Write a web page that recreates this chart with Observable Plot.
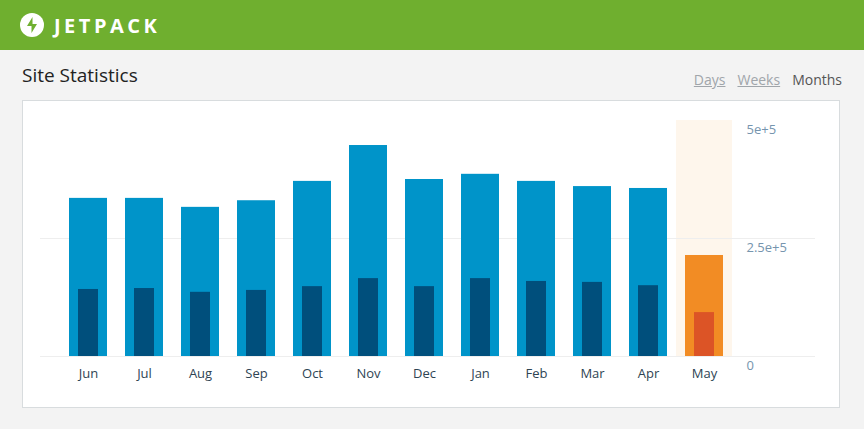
<!DOCTYPE html>
<html><head><meta charset="utf-8">
<script src="https://cdn.jsdelivr.net/npm/d3@7"></script>
<script src="https://cdn.jsdelivr.net/npm/@observablehq/plot@0.6"></script>
<style>
body{margin:0;width:864px;height:429px;background:#f3f3f3;font-family:"Open Sans",sans-serif;overflow:hidden;position:relative}
.head{height:50px;background:#6faf2f;display:flex;align-items:center}
.logo{width:24px;height:24px;border-radius:50%;background:#fff;margin-left:20px;position:relative}
.head span{color:#fff;font-weight:700;font-size:20px;letter-spacing:3.5px;margin-left:10px}
.title{position:absolute;left:22px;top:62px;font-size:19px;color:#222}
.tabs{position:absolute;top:70px;right:22px;font-size:14px;color:#a0a5aa}
.tabs a{margin-left:12px;text-decoration:underline}
.tabs b{margin-left:12px;font-weight:400;color:#555}
.panel{position:absolute;left:22px;top:100px;width:816px;height:306px;background:#fff;border:1px solid #d8dcde}
</style></head><body>
<div class="head"><div class="logo"><svg width="24" height="24"><path d="M12.5 4 L7 13 H11.5 V20 L17 11 H12.5 Z" fill="#6faf2f"/></svg></div><span>JETPACK</span></div>
<div class="title">Site Statistics</div>
<div class="tabs"><a>Days</a><a>Weeks</a><b>Months</b></div>
<div class="panel" id="chart"></div>
<script>
var months = ["Jun","Jul","Aug","Sep","Oct","Nov","Dec","Jan","Feb","Mar","Apr","May"];
var views = [335000,335000,316000,330000,371000,447000,375000,386000,371000,360000,356000,214000];
var visitors = [142000,144000,136000,140000,148000,165000,148000,165000,159000,157000,150000,93000];
var current = "May";

var data = months.map(function(m, i){ return {month: m, views: views[i], visitors: visitors[i], cur: m === current}; });

var plot = Plot.plot({
  width: 816, height: 300,
  marginLeft: 17, marginRight: 24, marginTop: 0, marginBottom: 45,
  style: {fontFamily: "Open Sans, sans-serif", fontSize: "13px"},
  x: {domain: months, range: [37, 709], paddingInner: 0.32, paddingOuter: 0.16, label: null},
  y: {domain: [0, 500000], range: [255, 19], label: null},
  marks: [
    Plot.barY(data.filter(function(d){return d.cur;}), {x: "month", y1: 0, y2: 500000, fill: "#fef6ec", insetLeft: -9, insetRight: -9}),
    Plot.ruleY([0, 250000], {stroke: "#eeeeee"}),
    Plot.barY(data, {x: "month", y: "views", fill: function(d){return d.cur ? "#f28c24" : "#0094c9";}}),
    Plot.barY(data, {x: "month", y: "visitors", insetLeft: 9, insetRight: 9, fill: function(d){return d.cur ? "#dc5426" : "#004f7c";}}),
    Plot.axisX({tickSize: 0, tickPadding: 12, fill: "#2e4453", fontSize: 13}),
    Plot.axisY({anchor: "right", ticks: [0, 250000, 500000], tickFormat: ",", tickSize: 0, textAnchor: "start", dx: -78, dy: 9, fill: "#7695ae", fontSize: 13})
  ]
});
document.getElementById("chart").appendChild(plot);
</script>
</body></html>
